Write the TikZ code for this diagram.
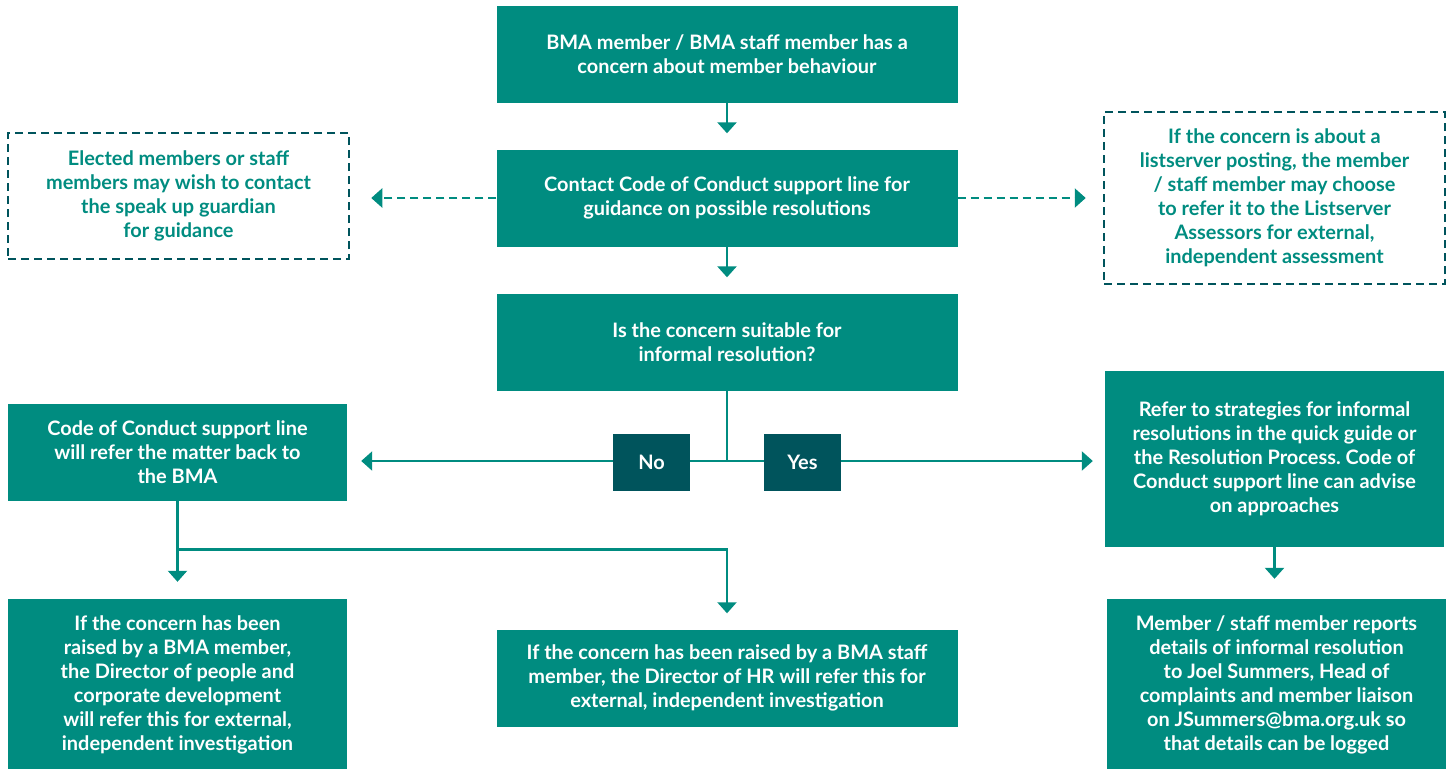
\documentclass[tikz,border=0pt]{standalone}
\usepackage{fontspec}
\setmainfont{Lato}
\usepackage{tikz}
\usetikzlibrary{arrows.meta}
\definecolor{bmateal}{RGB}{0,140,128}
\definecolor{bmadark}{RGB}{0,84,92}
\frenchspacing

\tikzset{
  box/.style={fill=bmateal,text=white,align=center,inner sep=0pt,
    font=\bfseries\fontsize{20}{24}\selectfont},
  wide/.style={box,minimum width=461bp,minimum height=97bp},
  side/.style={box,minimum width=339bp},
  optional/.style={box,fill=none,text=bmateal,draw=bmadark,line width=2.5bp,dash pattern=on 8bp off 5bp},
  answer/.style={box,fill=bmadark,minimum width=77bp,minimum height=57bp},
  link/.style={draw=bmateal,line width=2.2bp,-{Triangle[width=19bp,length=11bp]}},
  maybe/.style={link,dash pattern=on 8bp off 5bp}
}

\begin{document}
\begin{tikzpicture}
\useasboundingbox (0bp,0bp) rectangle (1448bp,-769bp);

\node (concern) at (727bp,-54bp)[wide] {BMA member / BMA staff member has a\\concern about member behaviour};
\node (support) at (727bp,-198bp)[wide] {Contact Code of Conduct support line for\\guidance on possible resolutions};
\node (suitable) at (727bp,-342bp)[wide] {Is the concern suitable for\\informal resolution?};
\node (guardian) at (178.5bp,-196bp)[optional,minimum width=341bp,minimum height=126bp] {Elected members or staff\\members may wish to contact\\the speak up guardian\\for guidance};
\node (listserver) at (1274.5bp,-198bp)[optional,minimum width=341bp,minimum height=172bp] {If the concern is about a\\listserver posting, the member\\/ staff member may choose\\to refer it to the Listserver\\Assessors for external,\\independent assessment};
\node (referback) at (177.5bp,-452bp)[side,minimum height=97bp] {Code of Conduct support line\\will refer the matter back to\\the BMA};
\node (strategies) at (1274.5bp,-459bp)[side,minimum height=176bp] {Refer to strategies for informal\\resolutions in the quick guide or\\the Resolution Process. Code of\\Conduct support line can advise\\on approaches};
\node (member) at (177.5bp,-685bp)[side,minimum height=172bp] {If the concern has been\\raised by a BMA member,\\the Director of people and\\corporate development\\will refer this for external,\\independent investigation};
\node (staff) at (727bp,-678bp)[wide] {If the concern has been raised by a BMA staff\\member, the Director of HR will refer this for\\external, independent investigation};
\node (reports) at (1276.5bp,-685bp)[side,minimum height=172bp] {Member / staff member reports\\details of informal resolution\\to Joel Summers, Head of\\complaints and member liaison\\on JSummers@bma.org.uk so\\that details can be logged};

\coordinate (split) at (727bp,-461bp);
\coordinate (fork) at (177.5bp,-549.5bp);

% main line
\draw [link,line width=2.6bp,shorten >=16bp] (concern) -- (support);
\draw [link,line width=2.6bp,shorten >=16bp] (support) -- (suitable);
\draw [maybe,shorten >=21bp] (support.west) -- (support.west -| guardian.east);
\draw [maybe,shorten >=17bp] (support.east) -- (support.east -| listserver.west);

% no / yes
\draw [link,-] (suitable) -- (split);
\draw [link,shorten >=14bp] (split) -- (split -| referback.east);
\draw [link,shorten >=12bp] (split) -- (split -| strategies.west);
\node (no) at (651.5bp,-462.5bp)[answer] {No};
\node (yes) at (802.5bp,-462.5bp)[answer] {Yes};

% outcomes
\draw [link,-] (referback) -- (fork);
\draw [link,shorten >=17bp] (fork) -- (fork |- member.north);
\draw [link,shorten >=16bp] (fork) -| (staff);
\draw [link,line width=2.6bp,shorten >=20bp] (strategies.south) -- (strategies.south |- reports.north);
\end{tikzpicture}
\end{document}
